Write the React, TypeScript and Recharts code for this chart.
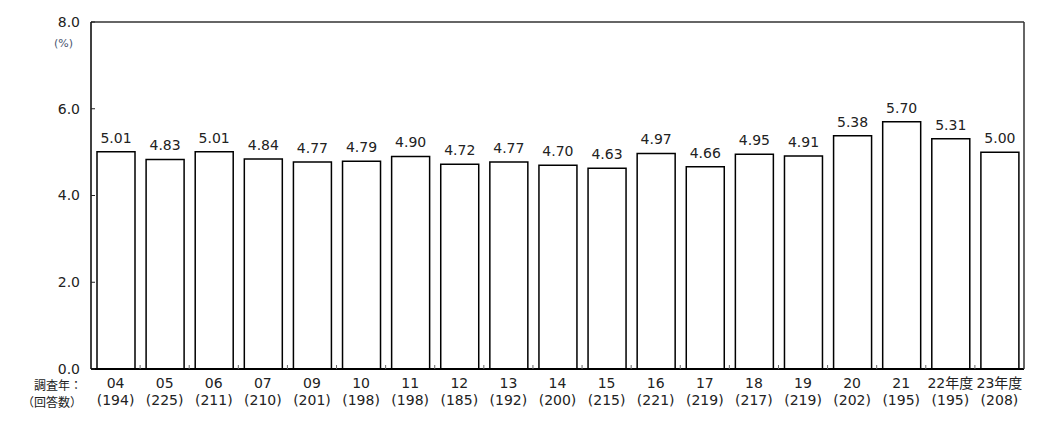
import { BarChart, Bar, XAxis, YAxis, LabelList, ReferenceLine } from "recharts";

const years = ["04", "05", "06", "07", "09", "10", "11", "12", "13", "14", "15", "16", "17", "18", "19", "20", "21", "22年度", "23年度"];
const rates = [5.01, 4.83, 5.01, 4.84, 4.77, 4.79, 4.9, 4.72, 4.77, 4.7, 4.63, 4.97, 4.66, 4.95, 4.91, 5.38, 5.7, 5.31, 5.0];
const answers = [194, 225, 211, 210, 201, 198, 198, 185, 192, 200, 215, 221, 219, 217, 219, 202, 195, 195, 208];
const yTicks = [0, 2, 4, 6, 8];

const data = years.map((year, i) => ({ year, rate: rates[i], n: answers[i] }));

const FONT = "'DejaVu Sans', 'Noto Sans CJK JP', sans-serif";
const TEXT = "#222";

// two-line label (year / answers) plus the small tick on the band edge
function YearTick(props: any) {
  const { x, y, payload, index, width, visibleTicksCount } = props;
  const band = Number(width) / Number(visibleTicksCount);
  const edge = x + band / 2;
  return (
    <g>
      {Number.isFinite(band) && index < years.length - 1 ? (
        <line x1={edge} x2={edge} y1={y - 4} y2={y} stroke="#666" strokeWidth={1} />
      ) : null}
      <text x={x} y={y + 19} textAnchor="middle" fontSize={14} fill={TEXT} fontFamily={FONT}>
        {payload.value}
      </text>
      <text x={x} y={y + 36} textAnchor="middle" fontSize={14} fill={TEXT} fontFamily={FONT}>
        ({answers[index]})
      </text>
    </g>
  );
}

export default function App() {
  return (
    <div style={{ position: "absolute", left: 0, top: 0, width: 1042, height: 422, background: "#fff", fontFamily: FONT }}>
      <BarChart width={1042} height={422} data={data} margin={{ top: 22, right: 0, bottom: 0, left: 0 }}>
        <XAxis
          dataKey="year"
          height={53}
          tickLine={false}
          tickSize={0}
          tickMargin={0}
          axisLine={{ stroke: "#000", strokeWidth: 2 }}
          tick={<YearTick />}
          interval={0}
        />
        <YAxis
          domain={[0, 8]}
          ticks={yTicks}
          width={91}
          tickSize={-4}
          tickMargin={15}
          tickFormatter={(v: number) => v.toFixed(1)}
          tick={{ fontSize: 14, fill: TEXT, fontFamily: FONT }}
          tickLine={{ stroke: "#222" }}
          axisLine={{ stroke: "#000", strokeWidth: 1.5 }}
        />
        <YAxis yAxisId="frame" orientation="right" width={18} tick={false} tickLine={false} axisLine={{ stroke: "#333", strokeWidth: 1.5 }} />
        <ReferenceLine y={8} stroke="#333" strokeWidth={1.5} ifOverflow="visible" />
        <Bar dataKey="rate" fill="#fff" stroke="#000" strokeWidth={1.5} barSize={38} isAnimationActive={false}>
          <LabelList
            dataKey="rate"
            position="top"
            offset={9}
            formatter={(v: number) => v.toFixed(2)}
            style={{ fontSize: 14, fill: TEXT, fontFamily: FONT }}
          />
        </Bar>
      </BarChart>
      <div style={{ position: "absolute", left: 54, top: 37, fontSize: 11, color: "#4a5670", fontFamily: FONT }}>(%)</div>
      <div style={{ position: "absolute", right: 1042 - 82, top: 379, fontSize: 12, lineHeight: "12px", color: TEXT, fontFamily: "'Noto Sans CJK JP', sans-serif", whiteSpace: "nowrap" }}>
        調査年：
      </div>
      <div style={{ position: "absolute", right: 1042 - 82, top: 396, fontSize: 12, lineHeight: "12px", color: TEXT, fontFamily: "'Noto Sans CJK JP', sans-serif", whiteSpace: "nowrap" }}>
        （回答数）
      </div>
    </div>
  );
}
